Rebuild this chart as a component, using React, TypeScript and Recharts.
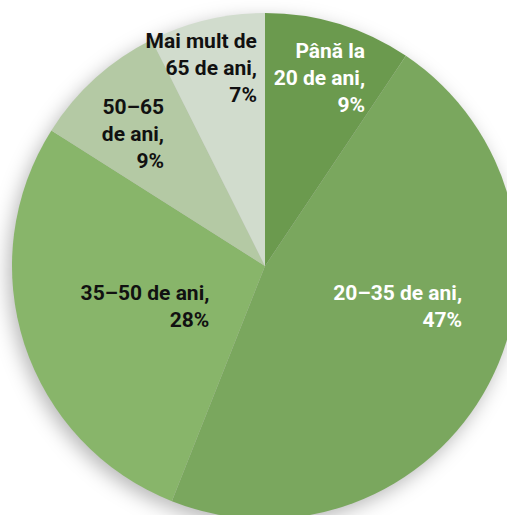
import React from "react";
import { PieChart, Pie, Cell } from "recharts";

const categories = ["Până la 20 de ani", "20–35 de ani", "35–50 de ani", "50–65 de ani", "Mai mult de 65 de ani"];
const values = [9.4, 46.6, 28.0, 8.6, 7.4];
const labelLines = [
  ["Până la", "20 de ani,"],
  ["20–35 de ani,"],
  ["35–50 de ani,"],
  ["50–65", "de ani,"],
  ["Mai mult de", "65 de ani,"],
];
const colors = ["#6b9a4e", "#7aa75e", "#88b56a", "#b4c9a4", "#d1dccd"];
const textColors = ["#ffffff", "#ffffff", "#111111", "#111111", "#111111"];
// label anchor: angle nudge (deg, clockwise) from slice mid, radius fraction
const labelNudge = [11.0, -16.2, -17.5, 4.7, 11.0];
const labelRadius = [0.845, 0.795, 0.27, 0.657, 0.787];

const data = categories.map((name, i) => ({ name, value: values[i] }));

const CX = 265;
const CY = 266;
const R = 253;
const LINE = 27;

const renderLabel = (props: any) => {
  const { cx, cy, midAngle, outerRadius, index } = props;
  const theta = ((90 - midAngle + labelNudge[index]) * Math.PI) / 180;
  const r = outerRadius * labelRadius[index];
  const x = cx + r * Math.sin(theta);
  const yc = cy - r * Math.cos(theta);
  const lines = [...labelLines[index], `${Math.round(values[index])}%`];
  const first = yc + 7.5 - ((lines.length - 1) * LINE) / 2;
  return (
    <text
      key={`l-${index}`}
      x={x}
      y={first}
      textAnchor="end"
      fill={textColors[index]}
      style={{ fontFamily: "Roboto, sans-serif", fontWeight: 700, fontSize: 21 }}
    >
      {lines.map((t, i) => (
        <tspan key={i} x={x} y={first + i * LINE}>
          {t}
        </tspan>
      ))}
    </text>
  );
};

export default function App() {
  return (
    <div style={{ position: "absolute", left: 0, top: 0, width: 507, height: 515, background: "#fff" }}>
      <style>{`.shadow-pie { filter: blur(7px); }`}</style>
      <PieChart width={507} height={515} margin={{ top: 0, right: 0, bottom: 0, left: 0 }}>
        <Pie
          className="shadow-pie"
          data={data}
          dataKey="value"
          cx={CX - 4}
          cy={CY + 6}
          outerRadius={R}
          startAngle={90}
          endAngle={-270}
          stroke="none"
          fill="rgba(0,0,0,0.28)"
          isAnimationActive={false}
          label={false}
          labelLine={false}
        />
        <Pie
          data={data}
          dataKey="value"
          cx={CX}
          cy={CY}
          outerRadius={R}
          startAngle={90}
          endAngle={-270}
          stroke="none"
          isAnimationActive={false}
          label={renderLabel}
          labelLine={false}
        >
          {data.map((d, i) => (
            <Cell key={d.name} fill={colors[i]} />
          ))}
        </Pie>
      </PieChart>
    </div>
  );
}
